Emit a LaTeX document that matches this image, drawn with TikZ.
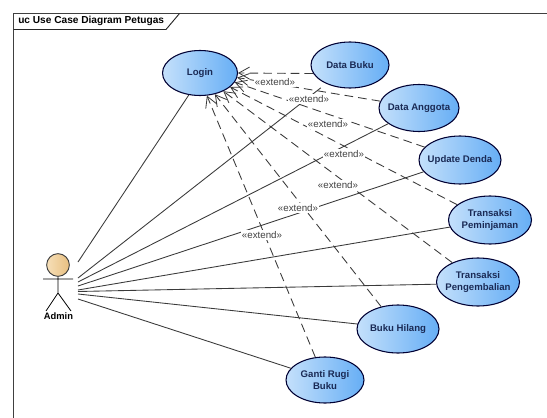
\documentclass[tikz,border=0pt]{standalone}
\usepackage{fontspec}
\setmainfont{Liberation Sans}
\usetikzlibrary{shapes.geometric,arrows.meta}
\definecolor{ucline}{HTML}{3A3A3A}
\definecolor{uctext}{HTML}{1A2A55}
\definecolor{ucleft}{HTML}{C4E0FB}
\definecolor{ucright}{HTML}{66AEF5}
\definecolor{ucskinl}{HTML}{F6DFB8}
\definecolor{ucskinr}{HTML}{E8BF80}
\tikzset{
  x=0.75pt,y=-0.75pt,
  usecase/.style={ellipse,draw=black!80!blue,line width=0.8pt,left color=ucleft,right color=ucright,
    inner xsep=-8pt,inner ysep=-6pt,align=center,text=uctext,font=\bfseries\fontsize{7.2}{8.7}\selectfont,
    minimum width=#1,anchor=center},
  assoc/.style={draw=ucline,line width=0.65pt},
  ext/.style={draw=ucline,line width=0.65pt,dash pattern=on 6.5pt off 3.8pt,-{Straight Barb[length=8pt,width=9pt,line width=0.6pt]}},
  extlabel/.style={font=\fontsize{7.3}{9}\selectfont,text=black!75,fill=white,inner sep=1pt},
}
\begin{document}
\begin{tikzpicture}
\useasboundingbox (0,0) rectangle (547,418);
\fill[white] (0,0) rectangle (547,418);
% frame
\draw[black!75,line width=0.8pt] (547,13.5) -- (13.5,13.5) -- (13.5,418);
\draw[black!85,line width=0.7pt] (13.5,29.5) -- (166,29.5) -- (179.5,13.5);
\node[font=\bfseries\fontsize{7.6}{9}\selectfont,anchor=west,inner sep=0pt] (title) at (18,21) {uc Use Case Diagram Petugas};

% use cases
\newcommand{\uc}[6]{\node[usecase=#4*0.75pt*2,minimum height=#5*0.75pt*2] (#1) at (#2,#3) {#6};}
\uc{login}{200}{73}{37.5}{22.5}{Login}
\uc{buku}{350}{65}{39}{23}{Data Buku}
\uc{anggota}{419}{108}{40}{23.5}{Data Anggota}
\uc{denda}{460}{160}{41}{24}{Update Denda}
\uc{pinjam}{490}{220}{41.5}{24}{Transaksi\\Peminjaman}
\uc{kembali}{478}{282}{41.5}{24}{Transaksi\\Pengembalian}
\uc{hilang}{398}{329}{41}{24}{Buku Hilang}
\uc{ganti}{325}{380}{39}{23}{Ganti Rugi\\Buku}

% actor
\node[circle,draw=black!75,line width=0.7pt,left color=ucskinl,right color=ucskinr,minimum size=17pt,inner sep=0pt] (head) at (58,265) {};
\coordinate (hip) at (58,293);
\coordinate (handl) at (43,279);
\coordinate (handr) at (73,279);
\coordinate (footl) at (46,311);
\coordinate (footr) at (71,311);
\draw[black,line width=0.6pt] (head) -- (hip) (handl) -- (handr) (footl) -- (hip) -- (footr);
\node[font=\bfseries\fontsize{7}{9}\selectfont,inner sep=0pt] (admin) at (58.5,316) {Admin};
\coordinate (a1) at (78,262);
\coordinate (a2) at (78,278);
\coordinate (a3) at (78,282);
\coordinate (a4) at (78,286);
\coordinate (a5) at (78,290);
\coordinate (a6) at (78,291.5);
\coordinate (a7) at (78,294);
\coordinate (a8) at (78,299);

% associations
\draw[assoc] (a1) -- (login.243);
\draw[assoc,shorten >=5pt] (a2) -- (buku.218);
\draw[assoc] (a3) -- (anggota.207);
\draw[assoc] (a4) -- (denda.198);
\draw[assoc] (a5) -- (pinjam.190);
\draw[assoc] (a6) -- (kembali.183);
\draw[assoc] (a7) -- (hilang.173);
\draw[assoc] (a8) -- (ganti.161);

% extends
\draw[ext] (buku.193) -- (login.0);
\draw[ext] (anggota.170) -- (login.353);
\draw[ext] (denda.160) -- (login.345);
\draw[ext] (pinjam.155) -- (login.335);
\draw[ext] (kembali.143) -- (login.322);
\draw[ext] (hilang.127) -- (login.305);
\draw[ext] (ganti.113) -- (login.287);

% labels
\node[extlabel] (e1) at (275,82) {«extend»};
\node[extlabel] (e2) at (309,99) {«extend»};
\node[extlabel] (e3) at (328,124) {«extend»};
\node[extlabel] (e4) at (344,154) {«extend»};
\node[extlabel] (e5) at (338,185) {«extend»};
\node[extlabel] (e6) at (298,208) {«extend»};
\node[extlabel] (e7) at (262,235) {«extend»};
\end{tikzpicture}
\end{document}
